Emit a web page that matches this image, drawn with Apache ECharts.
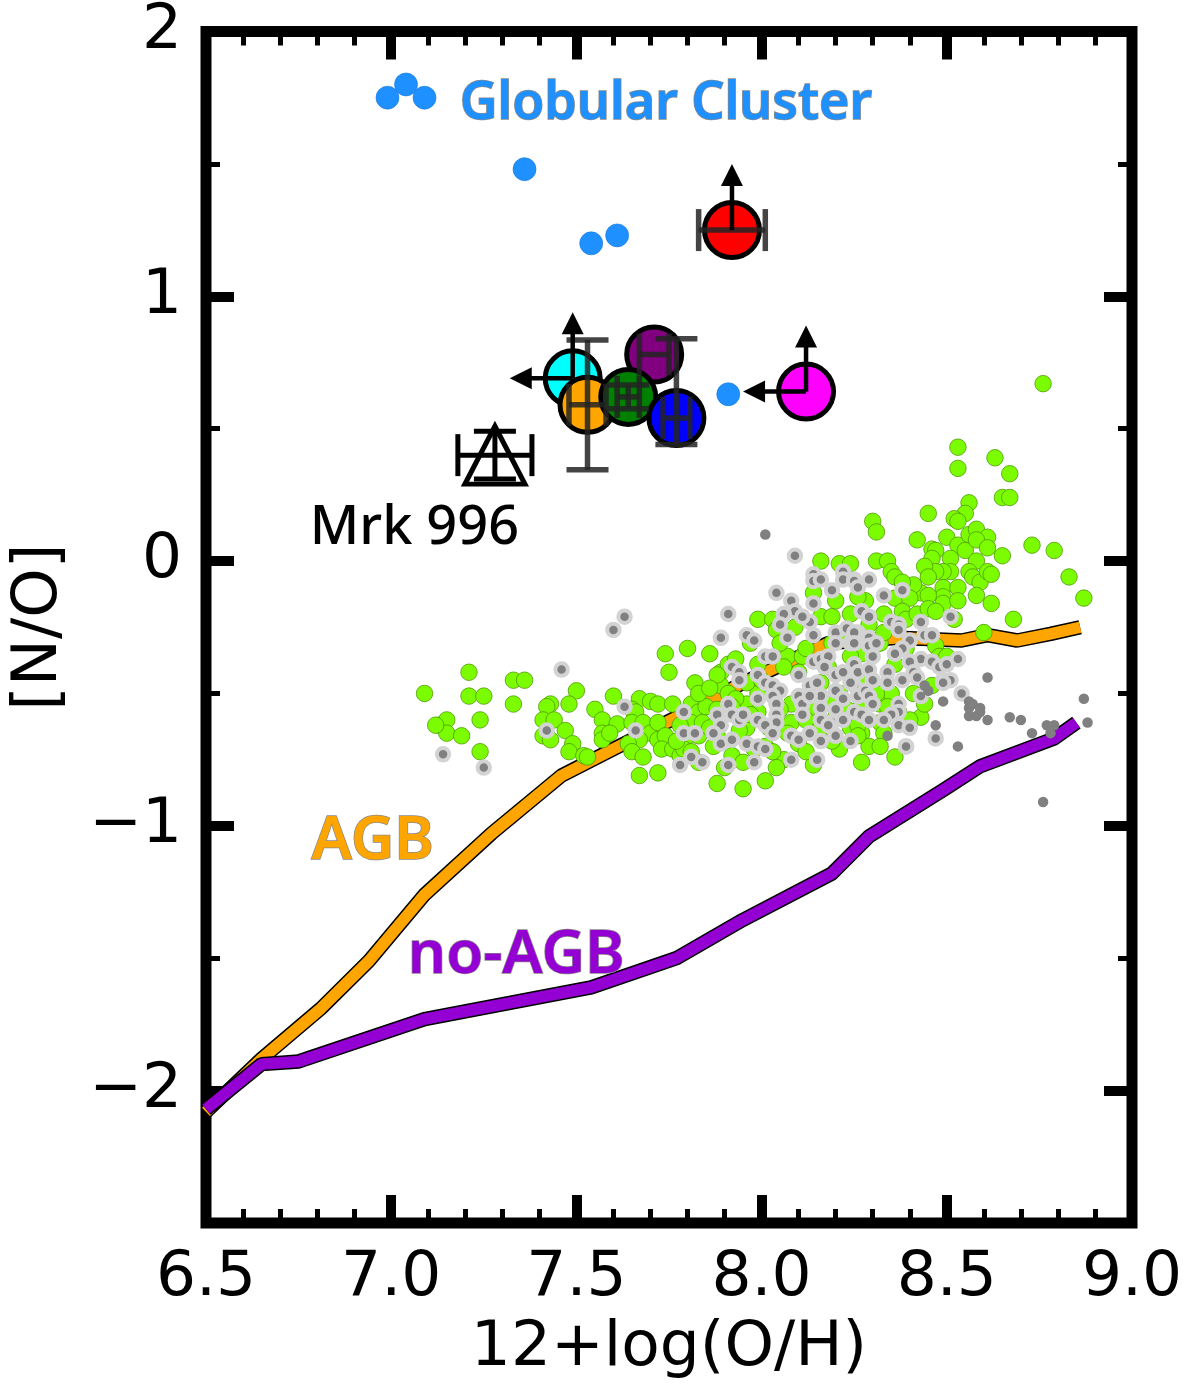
<!DOCTYPE html>
<html><head><meta charset="utf-8">
<script src="https://cdn.jsdelivr.net/npm/echarts@6/dist/echarts.min.js"></script>
<style>html,body{margin:0;padding:0;background:#fff}#c{width:1192px;height:1388px}</style>
</head><body><div id="c"></div>
<script>
// ---------------- data ----------------
const xTickValues = [6.5, 7.0, 7.5, 8.0, 8.5, 9.0];
const yMajorTicks = [-2, -1, 0, 1, 2];
const yMinorTicks = [-1.5, -0.5, 0.5, 1.5];

const agbModel = [[6.50,-2.08],[6.65,-1.88],[6.81,-1.69],[6.94,-1.51],[7.09,-1.26],[7.27,-1.03],[7.46,-0.81],[7.60,-0.71],[7.77,-0.59],[7.95,-0.46],[8.18,-0.31],[8.37,-0.29],[8.54,-0.30],[8.61,-0.28],[8.69,-0.30],[8.78,-0.275],[8.86,-0.25]];
const noAgbModel = [[6.50,-2.07],[6.65,-1.90],[6.75,-1.89],[7.09,-1.73],[7.54,-1.61],[7.77,-1.50],[7.95,-1.355],[8.19,-1.18],[8.29,-1.04],[8.49,-0.865],[8.59,-0.775],[8.79,-0.67],[8.85,-0.61]];

const sdssGalaxies = [
[7.09,-0.50],[7.21,-0.42],[7.21,-0.51],[7.25,-0.51],[7.33,-0.45],[7.36,-0.45],[7.33,-0.54],[7.24,-0.60],[7.13,-0.62],[7.15,-0.60],[7.15,-0.65],[7.12,-0.62],[7.19,-0.66],[7.24,-0.72],
[7.50,-0.49],[7.48,-0.54],[7.43,-0.54],[7.42,-0.55],[7.41,-0.60],[7.44,-0.60],[7.47,-0.64],[7.49,-0.69],[7.48,-0.72],[7.41,-0.66],[7.43,-0.675],[7.52,-0.735],[7.53,-0.74],
[7.55,-0.56],[7.60,-0.51],[7.57,-0.60],[7.61,-0.615],[7.57,-0.65],[7.57,-0.675],[7.59,-0.65],
[7.67,-0.52],[7.70,-0.53],[7.72,-0.54],[7.76,-0.54],[7.65,-0.56],[7.66,-0.57],[7.65,-0.61],[7.68,-0.61],[7.70,-0.65],[7.72,-0.675],[7.67,-0.675],[7.64,-0.69],[7.65,-0.72],[7.68,-0.74],[7.67,-0.81],[7.72,-0.80],[7.72,-0.61],
[7.74,-0.35],[7.80,-0.33],[7.75,-0.42],[7.82,-0.46],[7.74,-0.66],[7.73,-0.71],[7.76,-0.71],[7.78,-0.735],[7.88,-0.84],[7.95,-0.86],[8.01,-0.83],
[7.81,-0.54],[7.83,-0.57],[7.85,-0.55],[7.88,-0.56],[7.81,-0.61],[7.84,-0.61],[7.80,-0.66],[7.83,-0.66],[7.88,-0.66],[7.79,-0.71],[7.81,-0.72],[7.87,-0.70],
[7.89,-0.42],[7.91,-0.39],[7.93,-0.37],[7.89,-0.47],[7.88,-0.43],[7.99,-0.22],[8.03,-0.22],[8.04,-0.26],[7.92,-0.735],[7.95,-0.76],[7.98,-0.71],[8.01,-0.70],[7.97,-0.31],[8.07,-0.36],[8.11,-0.36],
[8.16,0.00],[8.21,-0.01],[8.24,-0.01],[8.16,-0.21],[8.19,-0.21],[8.24,-0.20],[8.06,-0.75],[8.14,-0.77],[8.21,-0.71],
[7.99,-0.50],[7.96,-0.54],[8.08,-0.54],[7.99,-0.57],[7.91,-0.50],[8.10,-0.69],[8.16,-0.63],[8.02,-0.63],[7.96,-0.63],[8.10,-0.42],[8.16,-0.46],[8.21,-0.50],[8.27,-0.54],[8.27,-0.65],[7.99,-0.39],[8.05,-0.31],[8.19,-0.31],[8.27,-0.35],[8.32,-0.31],[8.29,-0.24],[8.32,-0.54],[8.32,-0.61],[8.27,-0.76],[7.83,-0.76],[7.90,-0.78],[8.04,-0.78],[7.96,-0.46],[7.86,-0.35],[7.83,-0.50],[8.13,-0.555],[8.08,-0.61],[8.20,-0.59],[8.36,-0.39],[8.35,-0.50],[8.37,-0.57],[8.41,-0.50],[8.43,-0.59],
[7.86,-0.48],[7.93,-0.52],[7.97,-0.58],[8.05,-0.56],[8.07,-0.65],[8.12,-0.60],[8.18,-0.53],[8.23,-0.56],[8.24,-0.63],[8.19,-0.68],[8.12,-0.72],[8.03,-0.72],[7.94,-0.64],[7.86,-0.63],[8.00,-0.45],[8.06,-0.40],[8.12,-0.33],[8.18,-0.40],[8.24,-0.36],[8.22,-0.28],[8.28,-0.45],[8.31,-0.50],[8.34,-0.55],[8.29,-0.70],[8.33,-0.65],[8.40,-0.60],[8.44,-0.54],[8.46,-0.47],[8.39,-0.33],[8.33,-0.27],[8.09,-0.25],[8.14,-0.12],[8.20,-0.15],[8.28,-0.15],[8.33,-0.20],[7.92,-0.55],[7.78,-0.62],[7.77,-0.68],
[8.53,0.43],[8.63,0.39],[8.53,0.35],[8.67,0.33],[8.65,0.24],[8.67,0.24],[8.56,0.22],[8.55,0.18],[8.52,0.16],[8.53,0.15],[8.45,0.18],[8.30,0.15],[8.31,0.11],[8.42,0.08],[8.50,0.09],[8.46,0.045],[8.47,0.04],[8.46,0.01],[8.53,0.06],[8.55,0.04],[8.56,0.10],[8.58,0.12],[8.61,0.09],[8.58,0.08],[8.61,0.05],[8.73,0.06],[8.79,0.04],[8.65,0.02],[8.58,0.00],[8.51,0.01],[8.51,-0.04],[8.49,-0.04],[8.47,-0.04],[8.44,-0.02],[8.45,-0.06],[8.56,-0.04],[8.57,-0.06],[8.59,-0.08],[8.61,-0.04],[8.62,-0.05],[8.31,0.00],[8.34,0.00],[8.35,-0.04],[8.36,-0.06],[8.83,-0.06],[8.87,-0.14],[8.49,-0.10],[8.53,-0.10],[8.49,-0.135],[8.49,-0.16],[8.43,-0.12],[8.45,-0.13],[8.58,-0.13],[8.62,-0.16],[8.53,-0.15],[8.41,-0.09],[8.38,-0.08],[8.36,-0.14],[8.40,-0.14],[8.26,-0.135],[8.38,-0.19],[8.39,-0.22],[8.42,-0.20],[8.45,-0.18],[8.47,-0.19],[8.52,-0.22],[8.68,-0.22],[8.60,-0.27],[8.47,-0.32],[8.48,-0.36],[8.50,-0.36],[8.32,-0.70],[8.36,-0.74],[8.26,-0.62],[8.26,-0.66],[8.76,0.67]
];

const hiiRegionsHalo = [
[7.46,-0.41],[7.63,-0.55],[7.42,-0.64],[7.66,-0.64],[7.14,-0.73],[7.25,-0.78],[7.60,-0.26],[7.63,-0.21],
[8.09,0.02],[8.14,-0.05],[8.14,-0.075],[8.16,-0.07],[8.19,-0.11],[8.22,-0.04],[8.22,-0.07],[8.25,-0.07],[8.04,-0.12],[8.08,-0.15],[8.09,-0.19],[8.06,-0.20],[8.05,-0.24],[8.14,-0.16],[8.13,-0.23],[8.11,-0.21],
[7.91,-0.20],[7.89,-0.29],[7.96,-0.28],[7.98,-0.30],[8.07,-0.29],[8.14,-0.28],[8.20,-0.27],[8.20,-0.31],[8.23,-0.255],[8.24,-0.31],[8.26,-0.27],
[8.01,-0.36],[8.03,-0.36],[8.14,-0.38],[8.16,-0.37],[8.18,-0.36],[8.17,-0.40],[7.92,-0.40],[7.94,-0.42],[7.94,-0.45],[7.99,-0.43],[8.01,-0.46],[8.03,-0.47],[8.05,-0.49],[8.03,-0.51],[7.99,-0.52],
[8.10,-0.43],[8.10,-0.51],[8.13,-0.47],[8.15,-0.46],[8.16,-0.51],[8.20,-0.43],[8.22,-0.42],[8.20,-0.49],[8.22,-0.52],[8.25,-0.47],[8.26,-0.51],
[8.04,-0.54],[8.04,-0.58],[8.04,-0.61],[7.91,-0.54],[7.88,-0.58],[7.92,-0.58],[7.94,-0.60],[7.95,-0.58],[7.89,-0.62],[7.99,-0.60],[8.01,-0.62],[8.03,-0.65],
[7.79,-0.57],[7.79,-0.65],[7.82,-0.65],[7.87,-0.65],[7.89,-0.69],[7.92,-0.675],[7.96,-0.69],[7.99,-0.70],[8.01,-0.71],
[8.11,-0.54],[8.11,-0.58],[8.13,-0.51],[8.16,-0.555],[8.16,-0.60],[8.19,-0.61],[8.20,-0.56],[8.22,-0.60],[8.25,-0.57],
[8.08,-0.66],[8.10,-0.675],[8.13,-0.65],[8.16,-0.68],[8.18,-0.62],[8.20,-0.66],[8.24,-0.68],[7.81,-0.74],[7.84,-0.76],[7.78,-0.77],[7.91,-0.77],[7.98,-0.76],[8.08,-0.75],[8.15,-0.75],
[8.29,-0.07],[8.25,-0.075],[8.26,-0.10],[8.38,-0.11],[8.33,-0.13],[8.27,-0.19],[8.29,-0.21],[8.35,-0.23],[8.37,-0.24],[8.37,-0.26],[8.43,-0.23],[8.44,-0.28],[8.46,-0.28],[8.40,-0.30],[8.38,-0.33],[8.36,-0.35],[8.51,-0.21],
[8.43,-0.37],[8.46,-0.38],[8.48,-0.40],[8.50,-0.39],[8.53,-0.37],[8.40,-0.38],[8.41,-0.42],[8.42,-0.44],[8.38,-0.45],[8.49,-0.45],[8.51,-0.45],[8.54,-0.50],[8.43,-0.51],[8.37,-0.54],[8.37,-0.57],[8.35,-0.58],[8.33,-0.60],[8.37,-0.62],[8.40,-0.63],[8.47,-0.67],[8.39,-0.70],
[8.25,-0.27],[8.25,-0.31],[8.29,-0.29],[8.29,-0.32],[8.31,-0.31],[8.30,-0.36],[8.25,-0.39],[8.26,-0.42],[8.29,-0.41],[8.30,-0.45],[8.24,-0.46],[8.28,-0.49],[8.34,-0.42],[8.34,-0.46],[8.29,-0.51],[8.30,-0.54],[8.27,-0.58],[8.29,-0.60],
[8.39,-0.70],[8.49,-0.46]
];

const hiiRegionsPlain = [
[8.01,0.10],[8.61,-0.44],[8.44,-0.47],[8.45,-0.49],[8.49,-0.53],[8.56,-0.53],[8.57,-0.54],[8.56,-0.555],[8.59,-0.555],[8.59,-0.57],[8.58,-0.585],[8.56,-0.585],[8.61,-0.60],
[8.67,-0.59],[8.70,-0.60],[8.73,-0.65],[8.77,-0.62],[8.79,-0.62],[8.78,-0.65],[8.87,-0.52],[8.88,-0.61],[8.47,-0.62],[8.34,-0.66],[8.53,-0.70],[8.76,-0.91]
];

const globularClusters = [[6.99,1.75],[7.04,1.80],[7.09,1.75],[7.36,1.48],[7.54,1.20],[7.61,1.23],[7.91,0.63]];

// targets (drawn in this order)
const targetX      = [7.49, 7.71, 7.53, 7.64, 7.77, 7.92, 8.12];
const targetY      = [0.69, 0.78, 0.59, 0.62, 0.54, 1.25, 0.64];
const targetXErr   = [0,    0.04, 0.05, 0.03, 0.036, 0.09, 0];
const targetYErrLo = [0,    0,    0.245, 0.045, 0.10, 0,   0];
const targetYErrHi = [0,    0,    0.245, 0.045, 0.30, 0,   0];
const targetLowerLimNO = [1, 0, 0, 0, 0, 1, 1];   // up arrows
const targetUpperLimOH = [1, 0, 0, 0, 0, 0, 1];   // left arrows
const arrowLenY = 0.25, arrowLenX = 0.17;

const mrk996X = [7.28], mrk996Y = [0.40], mrk996XErr = [0.10], mrk996YErr = [0.09];

const labelText = ['Globular Cluster', 'Mrk 996', 'AGB', 'no-AGB'];
const labelX    = [7.185, 6.78, 6.785, 7.045];
const labelY    = [1.725, 0.124, -1.061, -1.49];

// ---------------- styles ----------------
const targetColors = ['#00ffff', '#800080', '#ffa500', '#008000', '#0000ff', '#ff0000', '#ff00ff'];
const labelColors  = ['#1e90ff', '#000000', '#ffa500', '#9400d3'];
const labelFonts   = ['600 52px "Noto Sans"', '500 54px "Noto Sans"', '600 60px "Noto Sans"', '600 60px "Noto Sans"'];
const labelStroke  = ['#8a8a8a', null, '#8a8a8a', '#8a8a8a'];

const AX_FONT = 'DejaVu Sans';

function errRenderer(color, width) {
  return function (params, api) {
    const x = api.value(0), y = api.value(1), xe = api.value(2), yl = api.value(3), yh = api.value(4);
    const cap = 21;
    const st = { stroke: color, lineWidth: width, fill: null };
    const ch = [];
    const seg = (a, b) => ch.push({ type: 'line', shape: { x1: a[0], y1: a[1], x2: b[0], y2: b[1] }, style: st });
    if (xe > 0) {
      const l = api.coord([x - xe, y]), r = api.coord([x + xe, y]);
      seg(l, r);
      seg([l[0], l[1] - cap], [l[0], l[1] + cap]);
      seg([r[0], r[1] - cap], [r[0], r[1] + cap]);
    }
    if (yl > 0 || yh > 0) {
      const b = api.coord([x, y - yl]), t = api.coord([x, y + yh]);
      seg(b, t);
      seg([b[0] - cap, b[1]], [b[0] + cap, b[1]]);
      seg([t[0] - cap, t[1]], [t[0] + cap, t[1]]);
    }
    return { type: 'group', children: ch };
  };
}

function arrowRenderer(params, api) {
  const x = api.value(0), y = api.value(1), up = api.value(2), left = api.value(3);
  const c = api.coord([x, y]);
  const ch = [];
  const head = 22, hw = 11;
  const st = { stroke: '#000', lineWidth: 4.5, fill: null };
  if (up) {
    const t = api.coord([x, y + arrowLenY]);
    ch.push({ type: 'line', shape: { x1: c[0], y1: c[1], x2: t[0], y2: t[1] + head - 2 }, style: st });
    ch.push({ type: 'polygon', shape: { points: [[t[0], t[1]], [t[0] - hw, t[1] + head], [t[0] + hw, t[1] + head]] }, style: { fill: '#000' } });
  }
  if (left) {
    const t = api.coord([x - arrowLenX, y]);
    ch.push({ type: 'line', shape: { x1: c[0], y1: c[1], x2: t[0] + head - 2, y2: t[1] }, style: st });
    ch.push({ type: 'polygon', shape: { points: [[t[0], t[1]], [t[0] + head, t[1] - hw], [t[0] + head, t[1] + hw]] }, style: { fill: '#000' } });
  }
  return { type: 'group', children: ch };
}

function textRenderer(params, api) {
  const i = params.dataIndex;
  const p = api.coord([api.value(0), api.value(1)]);
  const style = { text: labelText[i], fill: labelColors[i], font: labelFonts[i], align: 'left', verticalAlign: 'middle' };
  if (labelStroke[i]) { style.stroke = labelStroke[i]; style.lineWidth = 1.5; }
  return { type: 'text', x: p[0], y: p[1], style: style };
}

const chart = echarts.init(document.getElementById('c'), null, { renderer: 'canvas' });

const xBase = {
  type: 'value', min: 6.5, max: 9.0, interval: 0.5,
  axisLine: { show: false, onZero: false }, splitLine: { show: false },
  axisTick: { show: true, inside: true, length: 28, lineStyle: { color: '#000', width: 10 } },
  minorTick: { show: true, splitNumber: 5, length: 14, lineStyle: { color: '#000', width: 5 } }
};
const yMajor = {
  type: 'value', min: -2.5, max: 2, interval: 0.5,
  axisLine: { show: false, onZero: false }, splitLine: { show: false },
  axisTick: { show: true, inside: true, length: 28, lineStyle: { color: '#000', width: 10 }, customValues: yMajorTicks }
};
const yMinor = {
  type: 'value', min: -2.5, max: 2, interval: 0.5,
  axisLine: { show: false, onZero: false }, splitLine: { show: false }, axisLabel: { show: false },
  axisTick: { show: true, inside: true, length: 14, lineStyle: { color: '#000', width: 5 }, customValues: yMinorTicks }
};

const option = {
  animation: false,
  backgroundColor: '#ffffff',
  grid: { left: 206, right: 60, top: 23, bottom: 165, show: true, borderWidth: 11, borderColor: '#000', backgroundColor: 'transparent' },
  xAxis: [
    Object.assign({}, xBase, {
      position: 'bottom',
      axisLabel: { show: true, fontFamily: AX_FONT, fontSize: 63, color: '#000', margin: 24, customValues: xTickValues, formatter: v => v.toFixed(1) },
      name: '12+log(O/H)', nameLocation: 'middle', nameGap: 94,
      nameTextStyle: { fontFamily: AX_FONT, fontSize: 63, color: '#000' }
    }),
    Object.assign({}, xBase, { position: 'top', axisLabel: { show: false } })
  ],
  yAxis: [
    Object.assign({}, yMajor, {
      position: 'left',
      axisLabel: { show: true, fontFamily: AX_FONT, fontSize: 63, color: '#000', margin: 24, customValues: yMajorTicks,
        formatter: v => (v < 0 ? '\u2212' : '') + Math.abs(v) },
      name: '[N/O]', nameLocation: 'middle', nameGap: 135,
      nameTextStyle: { fontFamily: AX_FONT, fontSize: 63, color: '#000' }
    }),
    Object.assign({}, yMinor, { position: 'left' }),
    Object.assign({}, yMajor, { position: 'right', axisLabel: { show: false } }),
    Object.assign({}, yMinor, { position: 'right' })
  ],
  series: [
    { type: 'line', data: agbModel, symbol: 'none', z: 2, lineStyle: { color: '#000', width: 14.5 }, silent: true },
    { type: 'line', data: agbModel, symbol: 'none', z: 2, lineStyle: { color: '#ffa500', width: 11.5 }, silent: true },
    { type: 'line', data: noAgbModel, symbol: 'none', z: 2, lineStyle: { color: '#000', width: 14.5 }, silent: true },
    { type: 'line', data: noAgbModel, symbol: 'none', z: 2, lineStyle: { color: '#9400d3', width: 11.5 }, silent: true },
    { type: 'scatter', data: sdssGalaxies, symbolSize: 16.5, z: 3,
      itemStyle: { color: '#7cfc00', borderColor: '#4e9a06', borderWidth: 0.8, opacity: 1 } },
    { type: 'scatter', data: hiiRegionsHalo, symbolSize: 12.5, z: 4,
      itemStyle: { color: '#808080', borderColor: '#d3d3d3', borderWidth: 4, opacity: 1 } },
    { type: 'scatter', data: hiiRegionsPlain, symbolSize: 10.5, z: 4,
      itemStyle: { color: '#808080', opacity: 1 } },
    { type: 'scatter', data: globularClusters, symbolSize: 23, z: 5,
      itemStyle: { color: '#1e90ff', borderColor: '#1a78d6', borderWidth: 0.6, opacity: 1 } },
    { type: 'scatter', z: 6, symbolSize: 55,
      data: targetX.map((x, i) => ({ value: [x, targetY[i]], itemStyle: { color: targetColors[i] } })),
      itemStyle: { borderColor: '#000', borderWidth: 5, opacity: 1 } },
    { type: 'custom', z: 7, renderItem: errRenderer('rgba(35,35,35,0.85)', 5.5), encode: { x: 0, y: 1 },
      data: targetX.map((x, i) => [x, targetY[i], targetXErr[i], targetYErrLo[i], targetYErrHi[i]]) },
    { type: 'custom', z: 8, renderItem: arrowRenderer, encode: { x: 0, y: 1 },
      data: targetX.map((x, i) => [x, targetY[i], targetLowerLimNO[i], targetUpperLimOH[i]]) },
    { type: 'scatter', z: 6, symbol: 'triangle', symbolSize: [60, 58],
      data: mrk996X.map((x, i) => [x, mrk996Y[i]]),
      itemStyle: { color: 'rgba(255,255,255,0)', borderColor: '#000', borderWidth: 5, opacity: 1 } },
    { type: 'custom', z: 7, renderItem: errRenderer('#000', 5), encode: { x: 0, y: 1 },
      data: mrk996X.map((x, i) => [x, mrk996Y[i], mrk996XErr[i], mrk996YErr[i], mrk996YErr[i]]) },
    { type: 'custom', z: 9, renderItem: textRenderer, encode: { x: 0, y: 1 }, clip: false,
      data: labelX.map((x, i) => [x, labelY[i]]) }
  ]
};
chart.setOption(option);
</script>
</body></html>
